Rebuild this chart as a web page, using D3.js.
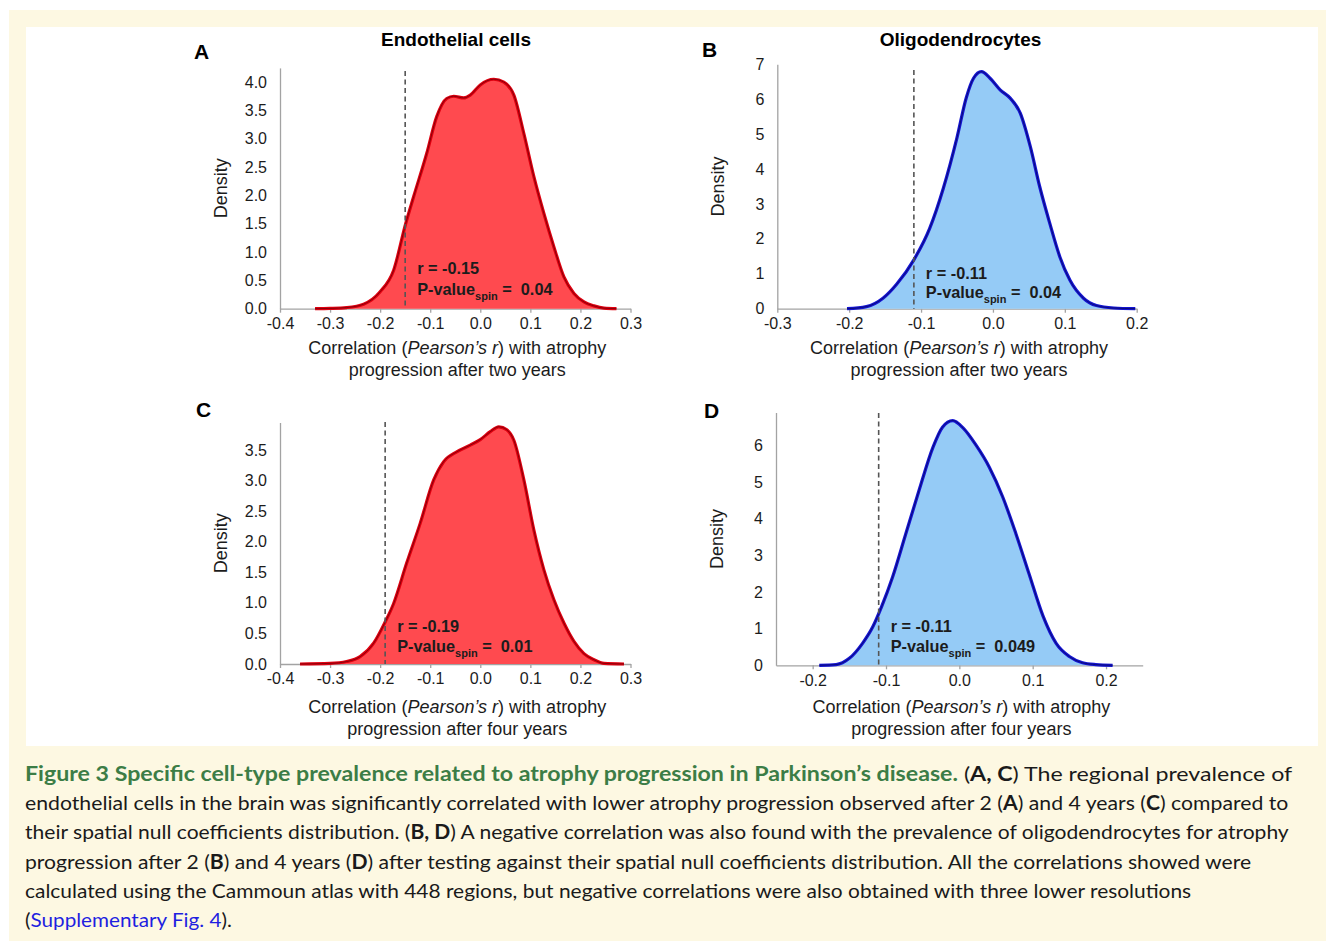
<!DOCTYPE html>
<html>
<head>
<meta charset="utf-8">
<script src="https://cdn.jsdelivr.net/npm/d3@7"></script>
<style>
    body { margin: 0; background: #fff; }
    svg text { white-space: pre; }
</style>
</head>
<body>
<svg id="fig" width="1326" height="941"></svg>
<script>
// null distributions of spin-test correlations
let endo_2y_r = [-0.33, -0.3, -0.267, -0.233, -0.2, -0.173, -0.149, -0.133, -0.107, -0.087, -0.067, -0.053, -0.033, -0.02, 0.0, 0.027, 0.047, 0.067, 0.087, 0.107, 0.127, 0.147, 0.167, 0.187, 0.207, 0.227, 0.247, 0.272]
let endo_2y_density = [0, 0.005, 0.02, 0.08, 0.3, 0.68, 1.5, 1.98, 2.74, 3.39, 3.71, 3.75, 3.72, 3.77, 3.95, 4.05, 4.0, 3.77, 3.09, 2.33, 1.68, 1.09, 0.56, 0.27, 0.12, 0.05, 0.01, 0]

let oligo_2y_r = [-0.203, -0.176, -0.153, -0.134, -0.11, -0.088, -0.069, -0.05, -0.037, -0.027, -0.016, -0.004, 0.01, 0.024, 0.038, 0.052, 0.065, 0.079, 0.093, 0.107, 0.126, 0.144, 0.168, 0.198]
let oligo_2y_density = [0, 0.06, 0.3, 0.7, 1.4, 2.3, 3.45, 4.9, 6.05, 6.6, 6.79, 6.6, 6.27, 6.03, 5.6, 4.64, 3.5, 2.45, 1.49, 0.82, 0.3, 0.09, 0.02, 0]

let endo_4y_r = [-0.36, -0.3, -0.267, -0.24, -0.213, -0.191, -0.173, -0.147, -0.12, -0.093, -0.073, -0.047, -0.02, 0.0, 0.02, 0.037, 0.053, 0.067, 0.087, 0.107, 0.127, 0.147, 0.167, 0.187, 0.207, 0.227, 0.247, 0.287]
let endo_4y_density = [0, 0.01, 0.04, 0.12, 0.34, 0.67, 0.99, 1.65, 2.3, 3.01, 3.31, 3.47, 3.58, 3.67, 3.8, 3.88, 3.83, 3.66, 3.01, 2.19, 1.54, 1.05, 0.67, 0.37, 0.17, 0.07, 0.01, 0]

let oligo_4y_r = [-0.191, -0.168, -0.15, -0.132, -0.118, -0.106, -0.091, -0.073, -0.055, -0.036, -0.023, -0.009, 0.005, 0.023, 0.041, 0.059, 0.077, 0.095, 0.114, 0.132, 0.15, 0.168, 0.186, 0.209]
let oligo_4y_density = [0, 0.02, 0.19, 0.6, 1.05, 1.6, 2.41, 3.59, 4.77, 5.95, 6.5, 6.68, 6.48, 6.0, 5.4, 4.6, 3.6, 2.5, 1.35, 0.6, 0.24, 0.07, 0.02, 0]

let observed_r = [-0.15, -0.11, -0.19, -0.11]
let p_spin = ['0.04', '0.04', '0.01', '0.049']

let x_ticks_endo = [-0.4, -0.3, -0.2, -0.1, 0, 0.1, 0.2, 0.3]
let x_ticks_oligo_2y = [-0.3, -0.2, -0.1, 0, 0.1, 0.2]
let x_ticks_oligo_4y = [-0.2, -0.1, 0, 0.1, 0.2]
let y_ticks_endo_2y = [0, 0.5, 1, 1.5, 2, 2.5, 3, 3.5, 4]
let y_ticks_endo_4y = [0, 0.5, 1, 1.5, 2, 2.5, 3, 3.5]
let y_ticks_oligo_2y = [0, 1, 2, 3, 4, 5, 6, 7]
let y_ticks_oligo_4y = [0, 1, 2, 3, 4, 5, 6]

let red = { fill: '#ff4a4f', line: '#e00010', edge: '#5a0008' }
let blue = { fill: '#95cbf6', line: '#1414d2', edge: '#08084a' }

let axis_col = '#a3a3a3'
let ink = '#1c1c1c'
let chart_font = '"Liberation Sans", Arial, sans-serif'

let panels = [
    { letter: 'A', letter_pos: [194, 59], title: 'Endothelial cells', title_x: 456, r: endo_2y_r, density: endo_2y_density, col: red,
      x_dom: [-0.4, 0.3], x_rng: [280, 630.5], y_dom: [0, 4.25], y_rng: [308.7, 67.9],
      x_ticks: x_ticks_endo, y_ticks: y_ticks_endo_2y, y_dec: 1, years: 'two', lab_y: 354, ann: [34.4, 13.7], dash_top: 71 },
    { letter: 'B', letter_pos: [702, 57], title: 'Oligodendrocytes', title_x: 960.5, r: oligo_2y_r, density: oligo_2y_density, col: blue,
      x_dom: [-0.3, 0.2], x_rng: [777.3, 1136.7], y_dom: [0, 7], y_rng: [308.7, 64.3],
      x_ticks: x_ticks_oligo_2y, y_ticks: y_ticks_oligo_2y, y_dec: 0, years: 'two', lab_y: 354, ann: [29.7, 10.4], dash_top: 70 },
    { letter: 'C', letter_pos: [196, 417], title: null, r: endo_4y_r, density: endo_4y_density, col: red,
      x_dom: [-0.4, 0.3], x_rng: [280, 630.5], y_dom: [0, 3.95], y_rng: [664, 422.5],
      x_ticks: x_ticks_endo, y_ticks: y_ticks_endo_4y, y_dec: 1, years: 'four', lab_y: 712.7, ann: [32.3, 11.7], dash_top: 422 },
    { letter: 'D', letter_pos: [704, 418], title: null, r: oligo_4y_r, density: oligo_4y_density, col: blue,
      x_dom: [-0.25, 0.25], x_rng: [776, 1142.7], y_dom: [0, 6.9], y_rng: [665.3, 412.5],
      x_ticks: x_ticks_oligo_4y, y_ticks: y_ticks_oligo_4y, y_dec: 0, years: 'four', lab_y: 712.7, ann: [33, 13.6], dash_top: 413 }
]

let caption_lines = [
    [['Figure 3 Specific cell-type prevalence related to atrophy progression in Parkinson\u2019s disease.', 'head'], [' (', ''], ['A, C', 'b'], [') The regional prevalence of', '']],
    [['endothelial cells in the brain was significantly correlated with lower atrophy progression observed after 2 (', ''], ['A', 'b'], [') and 4 years (', ''], ['C', 'b'], [') compared to', '']],
    [['their spatial null coefficients distribution. (', ''], ['B, D', 'b'], [') A negative correlation was also found with the prevalence of oligodendrocytes for atrophy', '']],
    [['progression after 2 (', ''], ['B', 'b'], [') and 4 years (', ''], ['D', 'b'], [') after testing against their spatial null coefficients distribution. All the correlations showed were', '']],
    [['calculated using the Cammoun atlas with 448 regions, but negative correlations were also obtained with three lower resolutions', '']],
    [['(', ''], ['Supplementary Fig. 4', 'link'], [').', '']]
]
let caption_right = [1293, 1289, 1290, 1252, 1192, 232]

let svg = d3.select('#fig')

// cream frame + white figure area
svg.append('rect').attr('x', 9).attr('y', 10).attr('width', 1317).attr('height', 931).attr('fill', '#fdf8e2')
svg.append('rect').attr('x', 26).attr('y', 27).attr('width', 1292).attr('height', 719).attr('fill', '#fff')

function draw_panel(p, i) {
    let g = svg.append('g')
    let x = d3.scaleLinear().domain(p.x_dom).range(p.x_rng)
    let y = d3.scaleLinear().domain(p.y_dom).range(p.y_rng)
    let y0 = y(0)

    let xa = g.append('g')
        .attr('transform', `translate(0,${y0})`)
        .call(d3.axisBottom(x).tickValues(p.x_ticks).tickFormat(d => d.toFixed(1)).tickSize(4).tickSizeOuter(0).tickPadding(5))
    let ya = g.append('g')
        .attr('transform', `translate(${p.x_rng[0]},0)`)
        .call(d3.axisLeft(y).tickValues(p.y_ticks).tickFormat(d => d.toFixed(p.y_dec)).tickSize(0).tickPadding(13))

    for (let a of [xa, ya]) {
        a.select('.domain').attr('stroke', axis_col).attr('stroke-width', 1.3)
        a.selectAll('.tick line').attr('stroke', axis_col).attr('stroke-width', 1.3)
        a.selectAll('.tick text')
            .attr('fill', ink)
            .style('font-family', chart_font)
            .style('font-size', '16px')
    }

    let pts = p.r.map((v, k) => [v, p.density[k]])

    let area = d3.area()
        .x(d => x(d[0]))
        .y0(y0)
        .y1(d => y(d[1]))
        .curve(d3.curveMonotoneX)
    let line = d3.line()
        .x(d => x(d[0]))
        .y(d => y(d[1]))
        .curve(d3.curveMonotoneX)

    g.append('path').attr('d', area(pts)).attr('fill', p.col.fill)
    g.append('path').attr('d', line(pts)).attr('fill', 'none')
        .attr('stroke', p.col.line).attr('stroke-width', 3.2).attr('stroke-linejoin', 'round')
    g.append('path').attr('d', line(pts)).attr('fill', 'none')
        .attr('stroke', p.col.edge).attr('stroke-width', 0.9).attr('stroke-opacity', 0.75)

    // observed correlation
    let xo = x(observed_r[i])
    g.append('line')
        .attr('x1', xo).attr('x2', xo)
        .attr('y1', p.dash_top).attr('y2', y0)
        .attr('stroke', '#555').attr('stroke-width', 1.6)
        .attr('stroke-dasharray', '5,3.5')

    let ann = g.append('g')
        .style('font-family', chart_font)
        .style('font-weight', 'bold')
        .style('font-size', '16.3px')
        .attr('fill', ink)
    ann.append('text')
        .attr('x', xo + 12).attr('y', y0 - p.ann[0])
        .text(`r = ${observed_r[i].toFixed(2)}`)
    let pt = ann.append('text')
        .attr('x', xo + 12).attr('y', y0 - p.ann[1])
    pt.append('tspan').text('P-value')
    pt.append('tspan').attr('dy', 5).style('font-size', '11px').text('spin')
    pt.append('tspan').attr('dy', -5).text(` =  ${p_spin[i]}`)

    // labels
    let cx = (p.x_rng[0] + p.x_rng[1]) / 2 + 2
    let xl = g.append('text')
        .attr('text-anchor', 'middle')
        .style('font-family', chart_font)
        .style('font-size', '18px')
        .attr('fill', ink)
    xl.append('tspan').attr('x', cx).attr('y', p.lab_y).text('Correlation (')
    xl.append('tspan').style('font-style', 'italic').text('Pearson\u2019s r')
    xl.append('tspan').text(') with atrophy')
    xl.append('tspan').attr('x', cx).attr('y', p.lab_y + 22).text(`progression after ${p.years} years`)

    let cy = (p.y_rng[0] + p.y_rng[1]) / 2
    let dx = p.x_rng[0] - 53
    g.append('text')
        .attr('transform', `translate(${dx},${cy}) rotate(-90)`)
        .attr('text-anchor', 'middle')
        .style('font-family', chart_font)
        .style('font-size', '18px')
        .attr('fill', ink)
        .text('Density')

    g.append('text')
        .attr('x', p.letter_pos[0]).attr('y', p.letter_pos[1])
        .style('font-family', chart_font)
        .style('font-weight', 'bold')
        .style('font-size', '21px')
        .attr('fill', '#000')
        .text(p.letter)

    if (p.title)
        g.append('text')
            .attr('x', p.title_x).attr('y', 46)
            .attr('text-anchor', 'middle')
            .style('font-family', chart_font)
            .style('font-weight', 'bold')
            .style('font-size', '19px')
            .attr('fill', '#000')
            .text(p.title)
}

panels.forEach(draw_panel)

// caption, each line stretched to its width in the original
caption_lines.forEach((segs, k) => {
    let base = 780.7 + k * 29.3
    let t = svg.append('text')
        .style('font-family', 'Lato, "Open Sans", sans-serif')
        .style('font-size', '20px')
        .attr('fill', '#1a1a1a')
    for (let [s, kind] of segs) {
        let ts = t.append('tspan').text(s)
        if (kind === 'head')
            ts.attr('fill', '#3c7d46').style('font-weight', 'bold')
        else if (kind === 'b')
            ts.style('font-weight', 'bold')
        else if (kind === 'link')
            ts.attr('fill', '#1f1fe0')
    }
    let w = t.node().getComputedTextLength()
    let sx = (caption_right[k] - 25) / w
    t.attr('transform', `translate(25,${base}) scale(${sx},1)`)
})
</script>
</body>
</html>
